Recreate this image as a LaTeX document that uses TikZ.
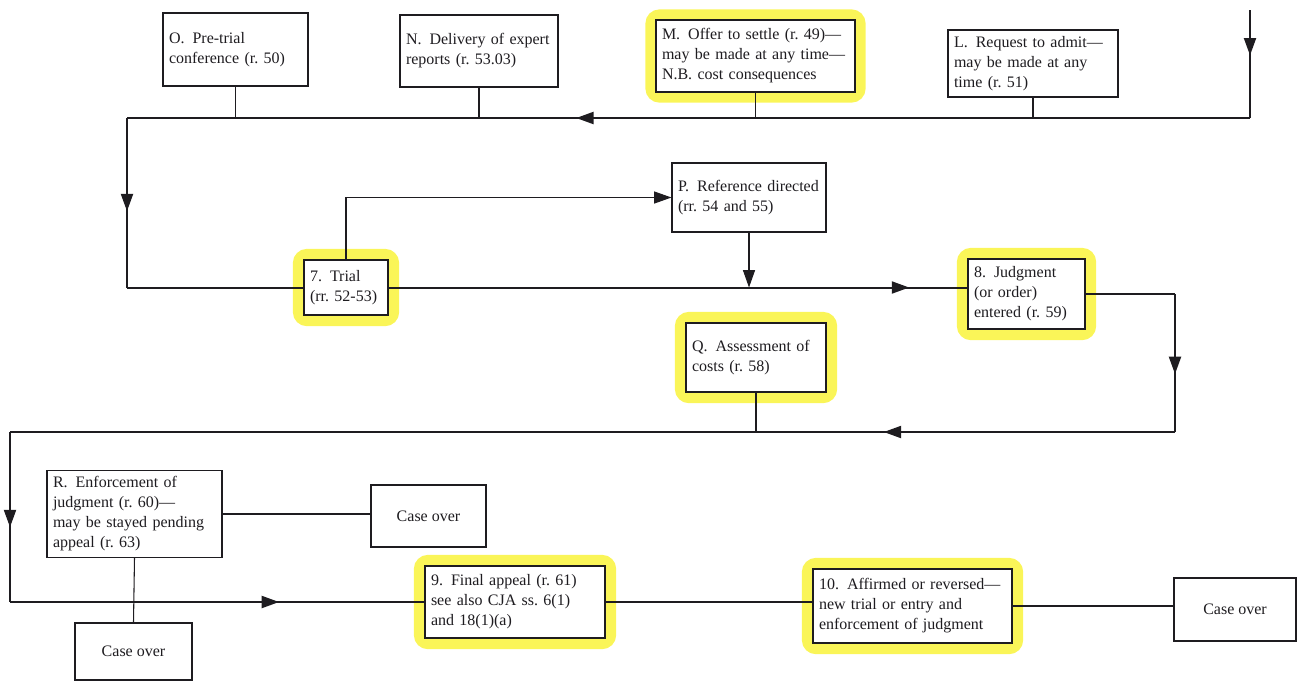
\documentclass[tikz,border=0pt]{standalone}
\usepackage{fontspec}
\setmainfont{Liberation Serif}
\usetikzlibrary{arrows.meta,decorations.markings,backgrounds,calc}
\definecolor{hl}{RGB}{250,244,70}
\definecolor{ink}{RGB}{30,28,32}
\frenchspacing
\tikzset{
  box/.style={draw=ink, line width=0.8pt, fill=white, align=left, inner sep=4.5pt,
    font=\fontsize{12}{15}\selectfont, text=ink},
  keybox/.style={box, line width=1.6pt},
  caseover/.style={draw=ink, line width=0.8pt, fill=white, align=center,
    font=\fontsize{12}{15}\selectfont, text=ink},
  flow/.style={draw=ink, line width=1.5pt},
  link/.style={draw=ink, line width=0.8pt},
  tip/.style={-{Triangle[length=13pt,width=9pt]}},
  marr/.style={postaction={decorate,decoration={markings,
    mark=at position #1 with {\arrow{Triangle[length=13pt,width=9pt]}}}}},
  hlight/.style={draw=hl, line width=9pt, rounded corners=6pt, opacity=0.9}
}
\begin{document}
\begin{tikzpicture}[x=0.75pt,y=-0.75pt]
\useasboundingbox (0,0) rectangle (1298,687);

% top row
\node[box, minimum width=108.75pt, minimum height=54.75pt, text width=99.75pt] (O) at (235.5,49.5)
  {O.\enspace Pre-trial\\conference (r. 50)};
\node[box, minimum width=118.5pt, minimum height=54pt, text width=109.5pt] (N) at (479,51)
  {N.\enspace Delivery of expert\\reports (r. 53.03)};
\node[box, minimum width=149.25pt, minimum height=54pt, text width=140.25pt] (M) at (755.5,56)
  {M.\enspace Offer to settle (r. 49)---\\may be made at any time---\\N.B. cost consequences};
\node[box, minimum width=127.5pt, minimum height=50.25pt, text width=118.5pt] (L) at (1033,63.5)
  {L.\enspace Request to admit---\\may be made at any\\time (r. 51)};

% middle
\node[box, minimum width=115.5pt, minimum height=51.75pt, text width=106.5pt] (P) at (749,197.5)
  {P.\enspace Reference directed\\(rr. 54 and 55)};
\node[keybox, minimum width=63pt, minimum height=41.25pt, text width=54pt] (T) at (346,287.5)
  {7.\enspace Trial\\(rr. 52-53)};
\node[keybox, minimum width=87.75pt, minimum height=52.5pt, text width=78.75pt] (J) at (1026.5,294)
  {8.\enspace Judgment\\(or order)\\entered (r. 59)};
\node[keybox, minimum width=105pt, minimum height=51.75pt, text width=96pt] (Q) at (756,357.5)
  {Q.\enspace Assessment of\\costs (r. 58)};

% bottom
\node[box, minimum width=131.25pt, minimum height=58.5pt, text width=122.25pt] (R) at (134.5,514)
  {R.\enspace Enforcement of\\judgment (r. 60)---\\may be stayed pending\\appeal (r. 63)};
\node[caseover, minimum width=86.25pt, minimum height=46.5pt] (C1) at (428.5,516) {Case over};
\node[caseover, minimum width=87.75pt, minimum height=42.75pt] (C2) at (133.5,651.5) {Case over};
\node[keybox, minimum width=135pt, minimum height=54pt, text width=126pt] (F) at (515,602)
  {9.\enspace Final appeal (r. 61)\\see also CJA ss. 6(1)\\and 18(1)(a)};
\node[keybox, minimum width=149.25pt, minimum height=55.5pt, text width=140.25pt] (A) at (912.5,606)
  {10.\enspace Affirmed or reversed---\\new trial or entry and\\enforcement of judgment};
\node[caseover, minimum width=91.5pt, minimum height=47.25pt] (C3) at (1235,609.5) {Case over};

% highlights
\begin{scope}[on background layer]
  \foreach \n in {M,T,J,Q,F,A}{
    \draw[hlight] ($(\n.south west)+(-4,4)$) rectangle ($(\n.north east)+(4,-4)$);
  }
\end{scope}

% route coordinates
\coordinate (s0) at (1250,10);
\coordinate (s1) at (1250,118);
\coordinate (s2) at (127,118);
\coordinate (j1) at (1175,294);
\coordinate (j2) at (1175,432);
\coordinate (j3) at (10,432);

% flow 1: top to trial
\draw[flow, marr=0.42] (s0) -- (s1);
\draw[flow, marr=0.6] (s1) -- (s2);
\draw[flow, marr=0.55] (s2) -- (s2 |- T.west);
\draw[flow] (s2 |- T.west) -- (T.west);

% branches into top line
\draw[link] (O.south) -- (O.south |- s2);
\draw[link] (N.south) -- (N.south |- s2);
\draw[link] (M.south) -- (M.south |- s2);
\draw[link] (L.south) -- (L.south |- s2);

% trial to reference
\draw[link, tip] (T.north) |- (P.west);
\draw[link, tip] (P.south) -- (P.south |- T.east);

% trial to judgment
\draw[flow, marr=0.9] (T.east) -- (T.east -| J.west);

% judgment around
\draw[flow] (J.east) -- (j1);
\draw[flow, marr=0.58] (j1) -- (j2);
\draw[flow, marr=0.25] (j2) -- (j3);
\draw[link] (Q.south) -- (Q.south |- j2);

% down to appeal
\draw[flow, marr=0.56] (j3) -- (j3 |- F.west);
\draw[flow, marr=0.65] (j3 |- F.west) -- (F.west);

% R branches
\draw[link] (R.east) -- (R.east -| C1.west);
\draw[link] (R.south) -- (C2.north);

% appeal to affirmed
\draw[flow] (F.east) -- (F.east -| A.west);
\draw[link] (A.east) -- (A.east -| C3.west);
\end{tikzpicture}
\end{document}
